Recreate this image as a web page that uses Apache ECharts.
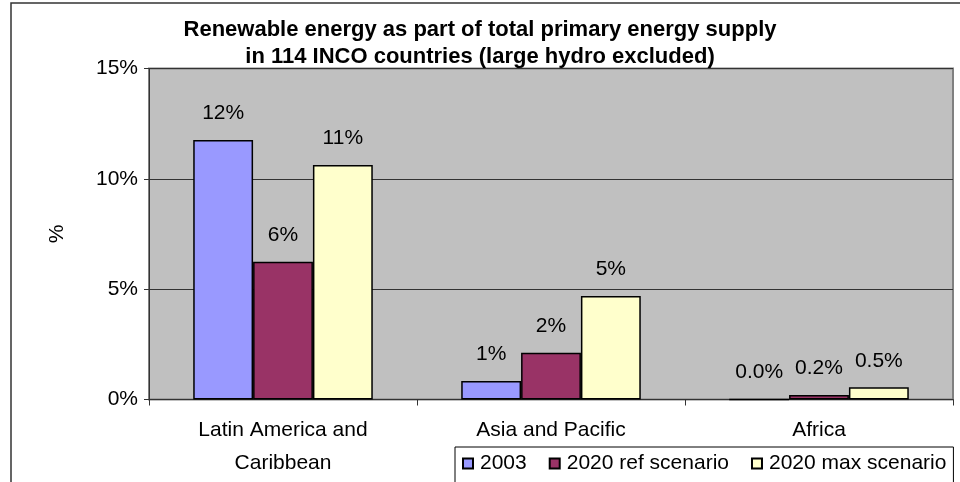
<!DOCTYPE html>
<html>
<head>
<meta charset="UTF-8">
<title>Renewable energy share</title>
<script src="https://cdn.jsdelivr.net/npm/echarts@6/dist/echarts.min.js"></script>
<style>
  html, body { margin: 0; padding: 0; background: #fff; }
  #chart { width: 960px; height: 482px; }
</style>
</head>
<body>
<div id="chart"></div>
<script>
// data
const regions = ['Latin America and\nCaribbean', 'Asia and Pacific', 'Africa'];
const seriesNames = ['2003', '2020 ref scenario', '2020 max scenario'];
const values2003 = [11.76, 0.84, 0.0];
const valuesRef = [6.24, 2.12, 0.2];
const valuesMax = [10.63, 4.69, 0.55];
const labels2003 = ['12%', '1%', '0.0%'];
const labelsRef = ['6%', '2%', '0.2%'];
const labelsMax = ['11%', '5%', '0.5%'];
const yTicks = [0, 5, 10, 15];

const colors = ['#9999FF', '#993366', '#FFFFCC'];
const font = "'Liberation Sans', Arial, sans-serif";
const fs = 21;

const chart = echarts.init(document.getElementById('chart'));

function makeSeries(name, data, labels, color) {
    return {
        name: name,
        type: 'bar',
        data: data,
        barGap: '0%',
        barCategoryGap: '33%',
        itemStyle: { color: color, borderColor: '#000', borderWidth: 1.5 },
        label: {
            show: true,
            position: 'top',
            distance: 16,
            color: '#000',
            fontFamily: font,
            fontSize: fs,
            formatter: p => labels[p.dataIndex]
        }
    };
}

chart.setOption({
    animation: false,
    textStyle: { fontFamily: font },
    title: {
        text: 'Renewable energy as part of total primary energy supply\nin 114 INCO countries (large hydro excluded)',
        left: 'center',
        top: 11,
        padding: [5, 0, 5, 14],
        textStyle: { fontFamily: font, fontSize: 22, fontWeight: 'bold', color: '#000', lineHeight: 27 }
    },
    grid: { left: 149, right: 7, top: 68.5, bottom: 82.5, show: true, backgroundColor: '#C0C0C0', borderColor: '#808080', borderWidth: 2 },
    legend: {
        left: 455,
        top: 447,
        padding: [6, 7, 20, 7],
        backgroundColor: '#fff',
        borderColor: '#000',
        borderWidth: 1,
        borderRadius: 0,
        itemWidth: 10,
        itemHeight: 10,
        itemGap: 22,
        icon: 'rect',
        data: seriesNames,
        textStyle: { fontFamily: font, fontSize: fs, color: '#000', padding: [0, 0, 0, 2] }
    },
    xAxis: {
        type: 'category',
        data: regions,
        axisLine: { lineStyle: { color: '#333', width: 1 } },
        axisTick: { show: true, length: 6, lineStyle: { color: '#333' } },
        axisLabel: { color: '#000', fontFamily: font, fontSize: fs, lineHeight: 33, margin: 14 }
    },
    yAxis: {
        type: 'value',
        min: yTicks[0],
        max: yTicks[yTicks.length - 1],
        interval: 5,
        name: '%',
        nameLocation: 'middle',
        nameGap: 81,
        nameTextStyle: { color: '#000', fontFamily: font, fontSize: fs },
        axisLine: { show: true, lineStyle: { color: '#333', width: 1 } },
        axisTick: { show: true, length: 5, lineStyle: { color: '#333' } },
        axisLabel: { color: '#000', fontFamily: font, fontSize: fs, margin: 11, formatter: v => v + '%' },
        splitLine: { lineStyle: { color: '#333', width: 1 } }
    },
    graphic: [{
        type: 'rect',
        shape: { x: 11, y: 3, width: 980, height: 520 },
        style: { fill: 'none', stroke: '#333', lineWidth: 1.5 },
        silent: true,
        z: -1
    }],
    series: [
        makeSeries(seriesNames[0], values2003, labels2003, colors[0]),
        makeSeries(seriesNames[1], valuesRef, labelsRef, colors[1]),
        makeSeries(seriesNames[2], valuesMax, labelsMax, colors[2])
    ]
});
</script>
</body>
</html>
